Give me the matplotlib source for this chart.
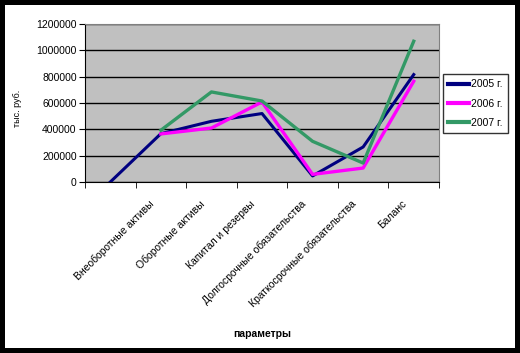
import matplotlib.pyplot as plt
import matplotlib.transforms as mtransforms
from matplotlib.patches import Rectangle
import numpy as np

plt.rcParams['font.family'] = ['Liberation Sans', 'DejaVu Sans']

# --- Datos ---
categories = ['', 'Внеоборотные активы', 'Оборотные активы', 'Капитал и резервы',
              'Долгосрочные обязательства', 'Краткосрочные обязательства', 'Баланс']
y2005 = [0, 367000, 461000, 520000, 46000, 266000, 816000]
y2006 = [np.nan, 365000, 410000, 608000, 58000, 106000, 765000]
y2007 = [np.nan, 393000, 684000, 615000, 309000, 144000, 1069000]
yticks = [0, 200000, 400000, 600000, 800000, 1000000, 1200000]

fig = plt.figure(figsize=(5.2, 3.53), dpi=100, facecolor='black')
fig.patches.append(Rectangle((5 / 520, 5 / 353), 510 / 520, 343 / 353,
                             transform=fig.transFigure, facecolor='white',
                             edgecolor='none', zorder=-5))

ax = fig.add_axes([85 / 520, 1 - 182 / 353, 354 / 520, 158 / 353])
ax.set_facecolor('#C0C0C0')

x = np.arange(len(categories))
ax.plot(x, y2005, color='#000080', linewidth=2.2, label='2005 г.', zorder=3)
ax.plot(x, y2006, color='#FF00FF', linewidth=2.4, label='2006 г.', zorder=3)
ax.plot(x, y2007, color='#339966', linewidth=2.4, label='2007 г.', zorder=3)

ax.set_xlim(-0.5, len(categories) - 0.5)
ax.set_ylim(0, 1200000)
ax.set_yticks(yticks)
ax.set_yticklabels([str(v) for v in yticks], fontsize=7.5)
ax.yaxis.grid(True, color='black', linewidth=1)
ax.set_axisbelow(True)

# Ticks entre categorías
ax.set_xticks(x)
ax.set_xticklabels(categories, fontsize=7.5, rotation=45, ha='right',
                   va='top', rotation_mode='anchor')
ax.tick_params(axis='x', which='major', length=0, pad=12)
ax.set_xticks(np.arange(-0.5, len(categories) - 0.4, 1), minor=True)
ax.tick_params(axis='x', which='minor', length=4, direction='out', color='black')
ax.tick_params(axis='y', length=4, direction='out', color='black', pad=2)
offset = mtransforms.ScaledTranslation(-12 / 100, 0, fig.dpi_scale_trans)
for lbl in ax.get_xticklabels():
    lbl.set_transform(lbl.get_transform() + offset)

for side in ['top', 'right']:
    ax.spines[side].set_color('#808080')
for side in ['left', 'bottom']:
    ax.spines[side].set_color('black')

ax.set_xlabel('параметры', fontsize=7.5, fontweight='bold', labelpad=14)
fig.text(17 / 520, 1 - 108 / 353, 'тыс. руб.', rotation=90, fontsize=6.5,
         ha='center', va='center')

leg = fig.legend(loc='upper right', bbox_to_anchor=(508 / 520, 1 - 74 / 353),
                 fontsize=7.5, frameon=True, fancybox=False, edgecolor='black',
                 handlelength=2.0, borderaxespad=0, borderpad=0.5,
                 labelspacing=0.9, handletextpad=0.2)
leg.get_frame().set_linewidth(1)
for h in leg.get_lines():
    h.set_linewidth(3)

fig.savefig('out.png', dpi=100, facecolor='black')
